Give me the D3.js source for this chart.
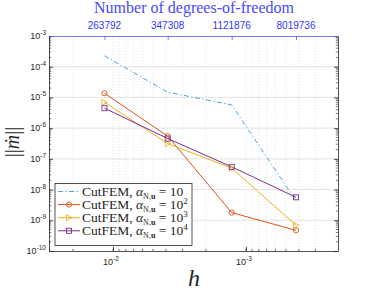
<!DOCTYPE html>
<html>
<head>
<meta charset="utf-8">
<script src="https://cdn.jsdelivr.net/npm/d3@7"></script>
<style>
body { margin: 0; background: #fff; }
svg text { fill: #262626; }
</style>
</head>
<body>
<svg width="374" height="297"></svg>
<script>
// mesh sizes and dofs
var h = [0.0116, 0.00388, 0.00128, 0.00042];
var dofs = ["263792", "347308", "1121876", "8019736"];
var err10 = [2.28e-4, 1.48e-5, 5.7e-6, 4.3e-9];
var err100 = [1.37e-5, 5.5e-7, 1.78e-9, 4.7e-10];
var err1000 = [6.98e-6, 3.15e-7, 5.0e-8, 6.9e-10];
var err10000 = [4.46e-6, 4.6e-7, 5.5e-8, 5.6e-9];
var yTicks = [1e-10, 1e-9, 1e-8, 1e-7, 1e-6, 1e-5, 1e-4, 1e-3];
var xTicks = [1e-2, 1e-3];

var series = [
  {vals: err10, exp: "", color: "#4aa2e0", dash: "5,2.5,1.2,2.5", marker: "none"},
  {vals: err100, exp: "2", color: "#D95319", dash: null, marker: "circle"},
  {vals: err1000, exp: "3", color: "#EDB120", dash: null, marker: "tri"},
  {vals: err10000, exp: "4", color: "#7E2F8E", dash: null, marker: "square"}
];

var svg = d3.select("svg");
var pL = 49, pR = 338, pT = 36, pB = 251;

var x = d3.scaleLog().domain([0.0303, 2.03e-4]).range([pL, pR]);
var y = d3.scaleLog().domain([1e-10, 1e-3]).range([pB, pT]);

// grid
var minorX = [];
for (var e = -4; e <= -1; e++) for (var k = 1; k <= 9; k++) {
  var v = k * Math.pow(10, e);
  if (v <= 0.0303 && v >= 2.03e-4) minorX.push(v);
}
svg.append("g").selectAll("line").data(minorX).enter().append("line")
  .attr("x1", d => x(d)).attr("x2", d => x(d))
  .attr("y1", pT).attr("y2", pB)
  .attr("stroke", "#cfcfcf").attr("stroke-width", 0.6).attr("stroke-dasharray", "1,2");
svg.append("g").selectAll("line").data(yTicks.slice(1, -1)).enter().append("line")
  .attr("x1", pL).attr("x2", pR)
  .attr("y1", d => y(d)).attr("y2", d => y(d))
  .attr("stroke", "#e3e3e3").attr("stroke-width", 1);

// axes
var minorY = [];
for (var e2 = -10; e2 < -3; e2++) for (var k2 = 2; k2 <= 9; k2++) minorY.push(k2 * Math.pow(10, e2));

function styleAxis(g, col) {
  g.select(".domain").attr("stroke", col).attr("stroke-width", 0.8);
  g.selectAll(".tick line").attr("stroke", col).attr("stroke-width", 0.8);
}
var gL = svg.append("g").attr("transform", "translate(" + pL + ",0)")
  .call(d3.axisLeft(y).tickValues(yTicks).tickSize(-4).tickSizeOuter(0).tickFormat(""));
gL.call(styleAxis, "#262626");
gL.append("g").selectAll("line").data(minorY).enter().append("line")
  .attr("x1", 0).attr("x2", 2.2).attr("y1", d => y(d)).attr("y2", d => y(d))
  .attr("stroke", "#262626").attr("stroke-width", 0.6);
var gR = svg.append("g").attr("transform", "translate(" + pR + ",0)")
  .call(d3.axisRight(y).tickValues(yTicks).tickSize(-4).tickSizeOuter(0).tickFormat(""));
gR.call(styleAxis, "#262626");
gR.append("g").selectAll("line").data(minorY).enter().append("line")
  .attr("x1", 0).attr("x2", -2.2).attr("y1", d => y(d)).attr("y2", d => y(d))
  .attr("stroke", "#262626").attr("stroke-width", 0.6);

var gB = svg.append("g").attr("transform", "translate(0," + pB + ")")
  .call(d3.axisBottom(x).tickValues(xTicks).tickSize(-4).tickSizeOuter(0).tickFormat(""));
gB.call(styleAxis, "#262626");
gB.append("g").selectAll("line").data(minorX).enter().append("line")
  .attr("x1", d => x(d)).attr("x2", d => x(d)).attr("y1", 0).attr("y2", -2.2)
  .attr("stroke", "#262626").attr("stroke-width", 0.6);

var gT = svg.append("g").attr("transform", "translate(0," + pT + ")")
  .call(d3.axisTop(x).tickValues(h).tickSize(-4).tickSizeOuter(0).tickFormat(""));
gT.call(styleAxis, "#5555ff");

// tick labels with superscripts
yTicks.forEach(function (t) {
  var tx = svg.append("text").attr("x", pL - 3).attr("y", y(t) + 3)
    .attr("text-anchor", "end").attr("font-family", "Liberation Sans, Arial, sans-serif").attr("font-size", 9);
  tx.append("tspan").text("10");
  tx.append("tspan").attr("dy", -4).attr("font-size", 6.5).text(String(Math.round(Math.log10(t))));
});
xTicks.forEach(function (t) {
  var tx = svg.append("text").attr("x", x(t) - 2).attr("y", pB + 14)
    .attr("text-anchor", "middle").attr("font-family", "Liberation Sans, Arial, sans-serif").attr("font-size", 9);
  tx.append("tspan").text("10");
  tx.append("tspan").attr("dy", -4).attr("font-size", 6.5).text(String(Math.round(Math.log10(t))));
});
svg.append("g").selectAll("text").data(h).enter().append("text")
  .attr("x", (d) => x(d)).attr("y", pT - 7)
  .attr("text-anchor", "middle").attr("font-family", "Liberation Sans, Arial, sans-serif")
  .attr("font-size", 10).style("fill", "#3535ff")
  .text((d, i) => dofs[i]);

svg.append("text").attr("x", 194).attr("y", 13).attr("text-anchor", "middle")
  .attr("font-family", "'Liberation Serif', 'DejaVu Serif', serif").attr("font-size", 16)
  .style("fill", "#4848ff").text("Number of degrees-of-freedom");

// axis labels
svg.append("text").attr("x", 194).attr("y", 286).attr("text-anchor", "middle")
  .attr("font-family", "Liberation Serif, serif").attr("font-style", "italic").attr("font-size", 24)
  .text("h");
var yl = svg.append("text").attr("transform", "translate(19,142) rotate(-90)").attr("text-anchor", "middle")
  .attr("font-family", "Liberation Serif, serif").attr("font-size", 20);
yl.append("tspan").text("||");
yl.append("tspan").attr("font-style", "italic").text("ṁ");
yl.append("tspan").text("||");

// lines
var line = d3.line().x((d, i) => x(h[i])).y(d => y(d));
series.forEach(function (s) {
  svg.append("path").datum(s.vals).attr("d", line)
    .attr("fill", "none").attr("stroke", s.color).attr("stroke-width", 1)
    .attr("stroke-dasharray", s.dash);
});

function drawMarker(g, type, cx, cy, col) {
  if (type === "circle") {
    g.append("circle").attr("cx", cx).attr("cy", cy).attr("r", 2.6)
      .attr("fill", "none").attr("stroke", col).attr("stroke-width", 0.9);
  } else if (type === "tri") {
    g.append("path").attr("d", "M" + (cx - 2.5) + "," + (cy - 3) + "L" + (cx + 3) + "," + cy + "L" + (cx - 2.5) + "," + (cy + 3) + "Z")
      .attr("fill", "none").attr("stroke", col).attr("stroke-width", 0.9);
  } else if (type === "square") {
    g.append("rect").attr("x", cx - 2.5).attr("y", cy - 2.5).attr("width", 5).attr("height", 5)
      .attr("fill", "none").attr("stroke", col).attr("stroke-width", 0.9);
  }
}
series.forEach(function (s) {
  s.vals.forEach(function (v, i) { drawMarker(svg, s.marker, x(h[i]), y(v), s.color); });
});

// legend
var lg = svg.append("g");
lg.append("rect").attr("x", 55).attr("y", 183.5).attr("width", 137).attr("height", 62)
  .attr("fill", "#fff").attr("stroke", "#262626").attr("stroke-width", 0.8);
series.forEach(function (s, i) {
  var yy = 191.5 + i * 13.1;
  lg.append("line").attr("x1", 58).attr("x2", 80).attr("y1", yy).attr("y2", yy)
    .attr("stroke", s.color).attr("stroke-width", 1).attr("stroke-dasharray", s.dash);
  drawMarker(lg, s.marker, 69, yy, s.color);
  var t = lg.append("text").attr("x", 82).attr("y", yy + 4.5)
    .attr("font-family", "Liberation Serif, serif").attr("font-size", 13.5);
  t.append("tspan").text("CutFEM, ");
  t.append("tspan").attr("font-style", "italic").text("α");
  t.append("tspan").attr("dy", 2.5).attr("font-size", 8).text("N,");
  t.append("tspan").attr("font-size", 8).attr("font-weight", "bold").text("u");
  t.append("tspan").attr("dy", -2.5).text(" = 10");
  if (s.exp) t.append("tspan").attr("dy", -5).attr("font-size", 9).text(s.exp);
});
</script>
</body>
</html>
